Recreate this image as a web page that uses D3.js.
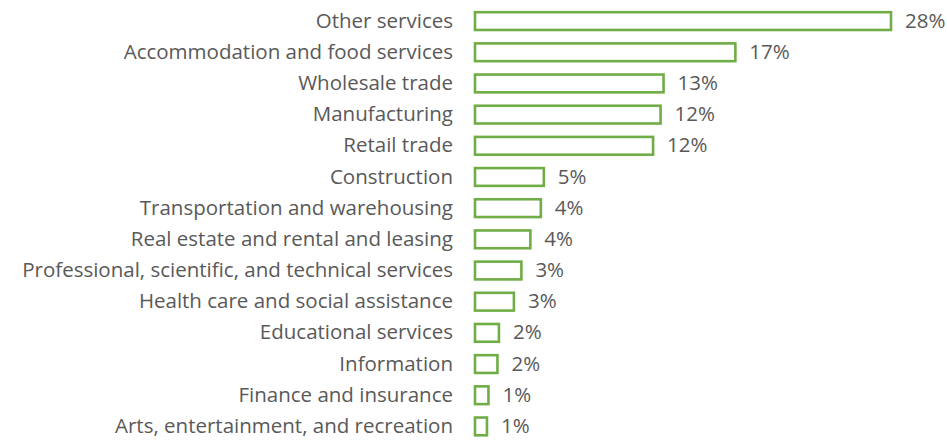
<!DOCTYPE html>
<html><head><meta charset="utf-8">
<script src="https://cdn.jsdelivr.net/npm/d3@7"></script>
<style>body{margin:0;background:#fff}svg{display:block}</style>
</head><body>
<svg id="c" width="947" height="440"></svg>
<script>
const categories = ["Other services","Accommodation and food services","Wholesale trade","Manufacturing","Retail trade","Construction","Transportation and warehousing","Real estate and rental and leasing","Professional, scientific, and technical services","Health care and social assistance","Educational services","Information","Finance and insurance","Arts, entertainment, and recreation"];
const values = [27.8, 17.4, 12.6, 12.4, 11.9, 4.6, 4.4, 3.7, 3.1, 2.6, 1.6, 1.5, 0.9, 0.8];
const data = categories.map((c,i)=>({c, v: values[i]}));

const svg = d3.select("#c");
const x = d3.scaleLinear().domain([0, 27.8]).range([475, 891]);
const y = d3.scaleBand().domain(categories).range([5.5, 442]).paddingInner(0.43).paddingOuter(0.215);
const green = "#70AD47", textCol = "#595959";
const font = "'Open Sans', sans-serif";

svg.selectAll("rect.bar").data(data).join("rect")
  .attr("class","bar")
  .attr("x", x(0))
  .attr("y", d=>y(d.c))
  .attr("width", d=>x(d.v)-x(0))
  .attr("height", y.bandwidth())
  .attr("fill","#fff").attr("stroke",green).attr("stroke-width",2.6);

svg.selectAll("text.cat").data(data).join("text")
  .attr("class","cat")
  .attr("x", 453)
  .attr("y", d=>y(d.c)+y.bandwidth()/2)
  .attr("dy","0.32em")
  .attr("text-anchor","end")
  .attr("fill",textCol)
  .style("font-family",font).style("font-size","20.5px")
  .text(d=>d.c);

const fmt = d3.format(".0f");
svg.selectAll("text.val").data(data).join("text")
  .attr("class","val")
  .attr("x", d=>x(d.v)+14)
  .attr("y", d=>y(d.c)+y.bandwidth()/2)
  .attr("dy","0.32em")
  .attr("fill",textCol)
  .style("font-family",font).style("font-size","20.5px")
  .text(d=>fmt(d.v)+"%");
</script>
</body></html>
